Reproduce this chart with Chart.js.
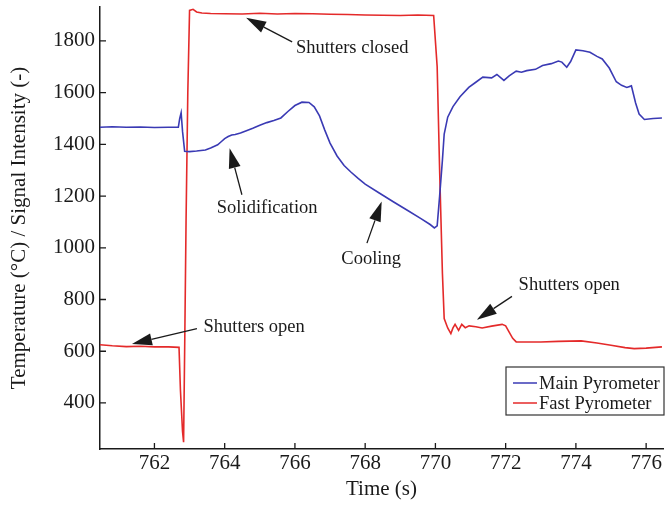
<!DOCTYPE html>
<html>
<head>
<meta charset="utf-8">
<script src="https://cdn.jsdelivr.net/npm/chart.js@4.4.1/dist/chart.umd.min.js"></script>
<style>
  html, body { margin: 0; padding: 0; background: #fff; }
</style>
</head>
<body>
<canvas id="pyroChart" width="667" height="508"></canvas>
<script>
// Main pyrometer (blue)
const mainTime = [760.45, 760.8, 761.2, 761.6, 762.0, 762.4, 762.68, 762.72, 762.76, 762.8, 762.86, 763.0, 763.2, 763.45,
  763.6, 763.8, 763.9, 764.0, 764.1, 764.2, 764.3, 764.45, 764.6, 764.8, 765.0, 765.2, 765.4, 765.6, 765.8, 766.0,
  766.2, 766.4, 766.55, 766.7, 766.85, 767.0, 767.2, 767.4, 767.6, 767.8, 768.0, 768.4, 768.8, 769.2, 769.6, 769.85,
  769.97, 770.05, 770.12, 770.2, 770.25, 770.35, 770.5, 770.7, 770.95, 771.15, 771.35, 771.6, 771.75, 771.95, 772.1,
  772.3, 772.45, 772.6, 772.85, 773.05, 773.3, 773.5, 773.6, 773.74, 773.85, 774.0, 774.2, 774.4, 774.6, 774.75,
  774.95, 775.15, 775.3, 775.45, 775.58, 775.7, 775.8, 775.95, 776.2, 776.45];
const mainTemp = [1466, 1468, 1466, 1467, 1465, 1466, 1466, 1500, 1522, 1450, 1373, 1372, 1374, 1378,
  1386, 1398, 1410, 1422, 1430, 1436, 1438, 1444, 1452, 1462, 1474, 1484, 1492, 1502, 1527, 1550,
  1563, 1562, 1545, 1510, 1455, 1405, 1355, 1318, 1292, 1268, 1246, 1212, 1178, 1145, 1112, 1090,
  1077, 1085, 1200, 1340, 1440, 1505, 1546, 1584, 1620, 1640, 1660, 1657, 1670, 1647, 1665,
  1683, 1679, 1685, 1690, 1705, 1712, 1722, 1718, 1698, 1720, 1765, 1762, 1756, 1740, 1730,
  1695, 1642, 1628, 1620, 1626, 1560, 1517, 1496, 1500, 1502];

// Fast pyrometer (red)
const fastTime = [760.45, 760.8, 761.2, 761.6, 762.0, 762.4, 762.7, 762.74, 762.8, 762.83, 762.86, 762.9, 762.95, 763.0,
  763.1, 763.2, 763.35, 763.6, 764.0, 764.5, 765.0, 765.5, 766.0, 766.5, 767.0, 767.5, 768.0, 768.5, 769.0, 769.5,
  769.95, 770.05, 770.12, 770.2, 770.25, 770.35, 770.44, 770.5, 770.56, 770.66, 770.75, 770.85, 770.96, 771.15, 771.33,
  771.6, 771.9, 772.0, 772.1, 772.2, 772.3, 772.6, 773.0, 773.5, 774.15, 774.6, 775.0, 775.4, 775.66, 776.0, 776.45];
const fastTemp = [625, 621, 618, 619, 617, 617, 615, 450, 290, 248, 600, 1100, 1600, 1918,
  1922, 1912, 1908, 1906, 1905, 1904, 1907, 1904, 1906, 1905, 1903, 1902, 1900, 1899, 1898, 1900,
  1898, 1700, 1300, 900, 726, 690, 668, 690, 704, 681, 704, 691, 698, 695, 690,
  697, 704, 698, 674, 650, 636, 636, 636, 638, 640, 632, 623, 614, 610, 612, 617];

const xTickValues = [762, 764, 766, 768, 770, 772, 774, 776];
const yTickValues = [400, 600, 800, 1000, 1200, 1400, 1600, 1800];

// annotation text + arrow (tail -> tip), in data units
const noteLabels = ['Shutters closed', 'Solidification', 'Cooling', 'Shutters open', 'Shutters open'];
const noteTextPos = [[767.63, 1773], [765.21, 1155], [768.17, 958], [764.84, 695], [773.81, 857]];
const noteTail = [[765.92, 1796], [764.49, 1205], [768.05, 1018], [763.21, 687], [772.18, 812]];
const noteTip = [[764.61, 1889], [764.14, 1385], [768.47, 1179], [761.36, 628], [771.18, 722]];

const serif = "'Liberation Serif', 'Times New Roman', serif";
const BLUE = '#3a3ab4';
const RED = '#e42a2a';
const INK = '#1a1a1a';

Chart.defaults.font.family = serif;
Chart.defaults.color = INK;

const toPoints = (xs, ys) => xs.map((x, i) => ({ x: x, y: ys[i] }));

const annotations = {
    id: 'annotations',
    afterDatasetsDraw(chart) {
        const { ctx, scales: { x, y } } = chart;
        ctx.save();
        ctx.strokeStyle = INK;
        ctx.fillStyle = INK;
        ctx.lineWidth = 1.3;
        noteLabels.forEach((label, i) => {
            const tx = x.getPixelForValue(noteTail[i][0]), ty = y.getPixelForValue(noteTail[i][1]);
            const hx = x.getPixelForValue(noteTip[i][0]), hy = y.getPixelForValue(noteTip[i][1]);
            const ang = Math.atan2(hy - ty, hx - tx);
            const len = 20, half = 6;
            const bx = hx - len * Math.cos(ang), by = hy - len * Math.sin(ang);
            ctx.beginPath();
            ctx.moveTo(tx, ty);
            ctx.lineTo(bx, by);
            ctx.stroke();
            ctx.beginPath();
            ctx.moveTo(hx, hy);
            ctx.lineTo(bx + half * Math.sin(ang), by - half * Math.cos(ang));
            ctx.lineTo(bx - half * Math.sin(ang), by + half * Math.cos(ang));
            ctx.closePath();
            ctx.fill();

            ctx.font = '18.5px ' + serif;
            ctx.textAlign = 'center';
            ctx.textBaseline = 'middle';
            ctx.fillText(label, x.getPixelForValue(noteTextPos[i][0]), y.getPixelForValue(noteTextPos[i][1]));
        });
        ctx.restore();
    },
    afterDraw(chart) {
        const { ctx, chartArea: a, scales: { x, y } } = chart;
        ctx.save();
        // inward ticks
        ctx.strokeStyle = INK;
        ctx.lineWidth = 1.3;
        ctx.beginPath();
        x.ticks.forEach(t => {
            const px = x.getPixelForValue(t.value);
            ctx.moveTo(px, a.bottom);
            ctx.lineTo(px, a.bottom - 6);
        });
        y.ticks.forEach(t => {
            const py = y.getPixelForValue(t.value);
            ctx.moveTo(a.left, py);
            ctx.lineTo(a.left + 6, py);
        });
        ctx.stroke();

        // legend box, lower right
        const bw = 158, bh = 48;
        const bx = a.right + 1 - bw, by = 367;
        ctx.fillStyle = '#fff';
        ctx.fillRect(bx, by, bw, bh);
        ctx.strokeStyle = '#333';
        ctx.lineWidth = 1.2;
        ctx.strokeRect(bx, by, bw, bh);
        const items = [['Main Pyrometer', BLUE], ['Fast Pyrometer', RED]];
        ctx.font = '18.5px ' + serif;
        ctx.textAlign = 'left';
        ctx.textBaseline = 'middle';
        items.forEach((it, i) => {
            const cy = by + 16 + i * 20;
            ctx.strokeStyle = it[1];
            ctx.lineWidth = 1.5;
            ctx.beginPath();
            ctx.moveTo(bx + 7, cy);
            ctx.lineTo(bx + 31, cy);
            ctx.stroke();
            ctx.fillStyle = INK;
            ctx.fillText(it[0], bx + 33, cy + 1);
        });
        ctx.restore();
    }
};

new Chart(document.getElementById('pyroChart'), {
    type: 'line',
    data: {
        datasets: [
            {
                label: 'Main Pyrometer',
                data: toPoints(mainTime, mainTemp),
                borderColor: BLUE,
                borderWidth: 1.6,
                pointRadius: 0,
                tension: 0
            },
            {
                label: 'Fast Pyrometer',
                data: toPoints(fastTime, fastTemp),
                borderColor: RED,
                borderWidth: 1.6,
                pointRadius: 0,
                tension: 0
            }
        ]
    },
    options: {
        responsive: false,
        animation: false,
        layout: { padding: { top: 7, right: 4, left: 0, bottom: 0 } },
        plugins: {
            legend: { display: false },
            tooltip: { enabled: false }
        },
        scales: {
            x: {
                type: 'linear',
                min: 760.45,
                max: 776.48,
                afterBuildTicks: s => { s.ticks = xTickValues.map(v => ({ value: v })); },
                afterFit: s => { s.height = 59; s.paddingLeft = 0; s.paddingRight = 0; },
                grid: { display: false },
                border: { display: true, color: INK, width: 1.5 },
                ticks: {
                    font: { size: 21 },
                    color: INK,
                    padding: -6,
                    maxRotation: 0,
                    callback: v => String(v)
                },
                title: {
                    display: true,
                    text: 'Time (s)',
                    font: { size: 21 },
                    color: INK,
                    padding: { top: 0, bottom: 6 }
                }
            },
            y: {
                type: 'linear',
                min: 222,
                max: 1931,
                afterBuildTicks: s => { s.ticks = yTickValues.map(v => ({ value: v })); },
                afterFit: s => { s.width = 100; s.paddingTop = 0; s.paddingBottom = 0; },
                grid: { display: false },
                border: { display: true, color: INK, width: 1.5 },
                ticks: {
                    font: { size: 21 },
                    color: INK,
                    padding: -3,
                    callback: v => String(v)
                },
                title: {
                    display: true,
                    text: 'Temperature (°C) / Signal Intensity (-)',
                    font: { size: 21 },
                    color: INK,
                    padding: { top: 7, bottom: 0 }
                }
            }
        }
    },
    plugins: [annotations]
});
</script>
</body>
</html>
